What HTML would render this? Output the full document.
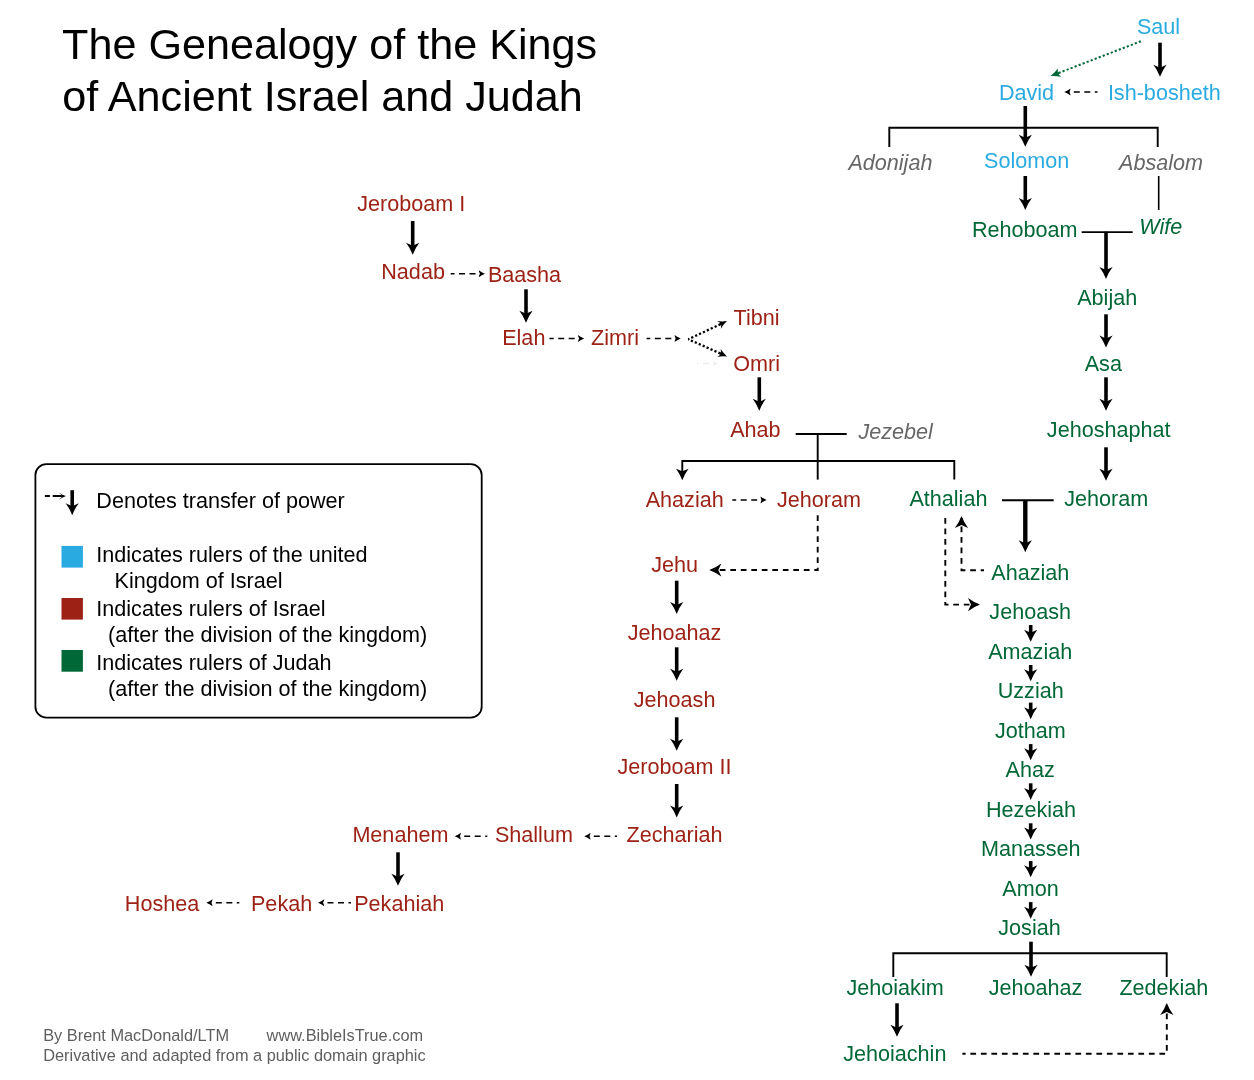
<!DOCTYPE html>
<html><head><meta charset="utf-8"><title>The Genealogy of the Kings of Ancient Israel and Judah</title>
<style>html,body{margin:0;padding:0;background:#fff}svg{display:block}text{font-family:"Liberation Sans",Arial,sans-serif}</style></head><body>
<svg width="1254" height="1080" viewBox="0 0 1254 1080">
<rect width="1254" height="1080" fill="#fff"/>
<g font-size="43.17" fill="#000"><text x="62.1" y="58.7">The Genealogy of the Kings</text><text x="62.2" y="110.6">of Ancient Israel and Judah</text></g>
<g font-size="21.6" text-anchor="middle">
<text x="1158.5" y="34.0" fill="#29abe2">Saul</text>
<text x="1026.5" y="100.0" fill="#29abe2">David</text>
<text x="1164.3" y="100.0" fill="#29abe2">Ish-bosheth</text>
<text x="1026.7" y="168.3" fill="#29abe2">Solomon</text>
<text x="890.4" y="170.0" fill="#666666" font-style="italic">Adonijah</text>
<text x="1161.0" y="170.0" fill="#666666" font-style="italic">Absalom</text>
<text x="895.7" y="438.8" fill="#666666" font-style="italic">Jezebel</text>
<text x="1024.7" y="237.2" fill="#006837">Rehoboam</text>
<text x="1160.8" y="234.3" fill="#006837" font-style="italic">Wife</text>
<text x="1107.2" y="304.8" fill="#006837">Abijah</text>
<text x="1103.3" y="370.5" fill="#006837">Asa</text>
<text x="1108.7" y="436.5" fill="#006837">Jehoshaphat</text>
<text x="1106.3" y="506.2" fill="#006837">Jehoram</text>
<text x="948.4" y="506.2" fill="#006837">Athaliah</text>
<text x="1030.3" y="580.3" fill="#006837">Ahaziah</text>
<text x="1030.2" y="619.2" fill="#006837">Jehoash</text>
<text x="1030.2" y="658.5" fill="#006837">Amaziah</text>
<text x="1030.7" y="698.0" fill="#006837">Uzziah</text>
<text x="1030.3" y="737.7" fill="#006837">Jotham</text>
<text x="1030.2" y="777.0" fill="#006837">Ahaz</text>
<text x="1031.0" y="816.5" fill="#006837">Hezekiah</text>
<text x="1030.8" y="856.0" fill="#006837">Manasseh</text>
<text x="1030.5" y="895.5" fill="#006837">Amon</text>
<text x="1029.5" y="934.8" fill="#006837">Josiah</text>
<text x="895.1" y="994.5" fill="#006837">Jehoiakim</text>
<text x="1035.5" y="994.5" fill="#006837">Jehoahaz</text>
<text x="1163.8" y="994.5" fill="#006837">Zedekiah</text>
<text x="894.8" y="1060.5" fill="#006837">Jehoiachin</text>
<text x="411.3" y="211.4" fill="#9e2116">Jeroboam I</text>
<text x="413.1" y="278.7" fill="#9e2116">Nadab</text>
<text x="524.5" y="282.0" fill="#9e2116">Baasha</text>
<text x="523.8" y="345.2" fill="#9e2116">Elah</text>
<text x="615.0" y="345.2" fill="#9e2116">Zimri</text>
<text x="756.6" y="324.8" fill="#9e2116">Tibni</text>
<text x="756.6" y="370.5" fill="#9e2116">Omri</text>
<text x="755.4" y="437.2" fill="#9e2116">Ahab</text>
<text x="684.7" y="507.2" fill="#9e2116">Ahaziah</text>
<text x="818.9" y="507.2" fill="#9e2116">Jehoram</text>
<text x="674.7" y="572.3" fill="#9e2116">Jehu</text>
<text x="674.5" y="640.0" fill="#9e2116">Jehoahaz</text>
<text x="674.6" y="707.3" fill="#9e2116">Jehoash</text>
<text x="674.5" y="774.3" fill="#9e2116">Jeroboam II</text>
<text x="674.5" y="842.2" fill="#9e2116">Zechariah</text>
<text x="533.9" y="842.2" fill="#9e2116">Shallum</text>
<text x="400.4" y="842.2" fill="#9e2116">Menahem</text>
<text x="399.2" y="911.2" fill="#9e2116">Pekahiah</text>
<text x="281.6" y="911.2" fill="#9e2116">Pekah</text>
<text x="162.0" y="911.2" fill="#9e2116">Hoshea</text>
</g>
<g fill="none" stroke="#000" stroke-width="1.9">
<path d="M889.3,147 V127.7 H1157.7 V147"/>
<path d="M1158.7,176 V210" stroke-width="1.6"/>
<path d="M1081.7,232.1 H1132.7"/>
<path d="M795.7,434 H846.7"/>
<path d="M817.7,434 V479.6"/>
<path d="M682.3,472 V461 H954.3 V479.6"/>
<path d="M1002,500.3 H1053.7"/>
<path d="M893.3,977 V953.3 H1166.7 V977"/>
</g>
<path transform="translate(682.3,480.3) rotate(90.0)" d="M0,0 Q-6.33,-2.38 -11.5,-6.25 Q-10,-2.08 -9,0 Q-10,2.08 -11.5,6.25 Q-6.33,2.38 0,0 Z" fill="#000"/>
<g stroke="#000" stroke-width="3.6" fill="none">
<path d="M1160,42.7 V69"/>
<path d="M1025.3,106 V139"/>
<path d="M1025.3,176 V202.3"/>
<path d="M1106,231.7 V271.3"/>
<path d="M1106,314.3 V339.7"/>
<path d="M1106,377.3 V403"/>
<path d="M1106,447.3 V473"/>
<path d="M1025.3,500.3 V544.5" stroke-width="4.4"/>
<path d="M1031,941.7 V969"/>
<path d="M897,1003.3 V1029"/>
<path d="M412.7,221 V247"/>
<path d="M526,289.3 V315"/>
<path d="M759.3,377.3 V403"/>
<path d="M676.7,580.7 V606.3"/>
<path d="M676.7,647.3 V673"/>
<path d="M676.7,717.3 V743"/>
<path d="M676.7,784 V809.7"/>
<path d="M398,852.3 V878"/>
<path d="M72.2,490.2 V507.4"/>
<path d="M1030.7,625 V634.5"/>
<path d="M1030.7,665 V674"/>
<path d="M1030.7,702.6 V711.9"/>
<path d="M1030.7,744.1 V753"/>
<path d="M1030.7,783.3 V792.6"/>
<path d="M1030.7,823.3 V832.2"/>
<path d="M1030.7,861.1 V870"/>
<path d="M1030.7,902.1 V911.4"/>
</g>
<path transform="translate(1160.0,76.8) rotate(90.0)" d="M0,0 Q-6.60,-2.51 -12,-6.6 Q-10,-2.20 -9,0 Q-10,2.20 -12,6.6 Q-6.60,2.51 0,0 Z" fill="#000"/>
<path transform="translate(1025.3,146.8) rotate(90.0)" d="M0,0 Q-6.60,-2.51 -12,-6.6 Q-10,-2.20 -9,0 Q-10,2.20 -12,6.6 Q-6.60,2.51 0,0 Z" fill="#000"/>
<path transform="translate(1025.3,210.1) rotate(90.0)" d="M0,0 Q-6.60,-2.51 -12,-6.6 Q-10,-2.20 -9,0 Q-10,2.20 -12,6.6 Q-6.60,2.51 0,0 Z" fill="#000"/>
<path transform="translate(1106.0,279.1) rotate(90.0)" d="M0,0 Q-6.60,-2.51 -12,-6.6 Q-10,-2.20 -9,0 Q-10,2.20 -12,6.6 Q-6.60,2.51 0,0 Z" fill="#000"/>
<path transform="translate(1106.0,347.5) rotate(90.0)" d="M0,0 Q-6.60,-2.51 -12,-6.6 Q-10,-2.20 -9,0 Q-10,2.20 -12,6.6 Q-6.60,2.51 0,0 Z" fill="#000"/>
<path transform="translate(1106.0,410.8) rotate(90.0)" d="M0,0 Q-6.60,-2.51 -12,-6.6 Q-10,-2.20 -9,0 Q-10,2.20 -12,6.6 Q-6.60,2.51 0,0 Z" fill="#000"/>
<path transform="translate(1106.0,480.8) rotate(90.0)" d="M0,0 Q-6.60,-2.51 -12,-6.6 Q-10,-2.20 -9,0 Q-10,2.20 -12,6.6 Q-6.60,2.51 0,0 Z" fill="#000"/>
<path transform="translate(1025.3,552.3) rotate(90.0)" d="M0,0 Q-6.60,-2.51 -12,-6.6 Q-10,-2.20 -9,0 Q-10,2.20 -12,6.6 Q-6.60,2.51 0,0 Z" fill="#000"/>
<path transform="translate(1031.0,976.8) rotate(90.0)" d="M0,0 Q-6.60,-2.51 -12,-6.6 Q-10,-2.20 -9,0 Q-10,2.20 -12,6.6 Q-6.60,2.51 0,0 Z" fill="#000"/>
<path transform="translate(897.0,1036.8) rotate(90.0)" d="M0,0 Q-6.60,-2.51 -12,-6.6 Q-10,-2.20 -9,0 Q-10,2.20 -12,6.6 Q-6.60,2.51 0,0 Z" fill="#000"/>
<path transform="translate(412.7,254.8) rotate(90.0)" d="M0,0 Q-6.60,-2.51 -12,-6.6 Q-10,-2.20 -9,0 Q-10,2.20 -12,6.6 Q-6.60,2.51 0,0 Z" fill="#000"/>
<path transform="translate(526.0,322.8) rotate(90.0)" d="M0,0 Q-6.60,-2.51 -12,-6.6 Q-10,-2.20 -9,0 Q-10,2.20 -12,6.6 Q-6.60,2.51 0,0 Z" fill="#000"/>
<path transform="translate(759.3,410.8) rotate(90.0)" d="M0,0 Q-6.60,-2.51 -12,-6.6 Q-10,-2.20 -9,0 Q-10,2.20 -12,6.6 Q-6.60,2.51 0,0 Z" fill="#000"/>
<path transform="translate(676.7,614.1) rotate(90.0)" d="M0,0 Q-6.60,-2.51 -12,-6.6 Q-10,-2.20 -9,0 Q-10,2.20 -12,6.6 Q-6.60,2.51 0,0 Z" fill="#000"/>
<path transform="translate(676.7,680.8) rotate(90.0)" d="M0,0 Q-6.60,-2.51 -12,-6.6 Q-10,-2.20 -9,0 Q-10,2.20 -12,6.6 Q-6.60,2.51 0,0 Z" fill="#000"/>
<path transform="translate(676.7,750.8) rotate(90.0)" d="M0,0 Q-6.60,-2.51 -12,-6.6 Q-10,-2.20 -9,0 Q-10,2.20 -12,6.6 Q-6.60,2.51 0,0 Z" fill="#000"/>
<path transform="translate(676.7,817.5) rotate(90.0)" d="M0,0 Q-6.60,-2.51 -12,-6.6 Q-10,-2.20 -9,0 Q-10,2.20 -12,6.6 Q-6.60,2.51 0,0 Z" fill="#000"/>
<path transform="translate(398.0,885.8) rotate(90.0)" d="M0,0 Q-6.60,-2.51 -12,-6.6 Q-10,-2.20 -9,0 Q-10,2.20 -12,6.6 Q-6.60,2.51 0,0 Z" fill="#000"/>
<path transform="translate(72.2,515.2) rotate(90.0)" d="M0,0 Q-6.60,-2.51 -12,-6.6 Q-10,-2.20 -9,0 Q-10,2.20 -12,6.6 Q-6.60,2.51 0,0 Z" fill="#000"/>
<path transform="translate(1030.7,641.8) rotate(90.0)" d="M0,0 Q-6.60,-2.51 -12,-6.6 Q-10,-2.20 -9,0 Q-10,2.20 -12,6.6 Q-6.60,2.51 0,0 Z" fill="#000"/>
<path transform="translate(1030.7,681.3) rotate(90.0)" d="M0,0 Q-6.60,-2.51 -12,-6.6 Q-10,-2.20 -9,0 Q-10,2.20 -12,6.6 Q-6.60,2.51 0,0 Z" fill="#000"/>
<path transform="translate(1030.7,719.2) rotate(90.0)" d="M0,0 Q-6.60,-2.51 -12,-6.6 Q-10,-2.20 -9,0 Q-10,2.20 -12,6.6 Q-6.60,2.51 0,0 Z" fill="#000"/>
<path transform="translate(1030.7,760.3) rotate(90.0)" d="M0,0 Q-6.60,-2.51 -12,-6.6 Q-10,-2.20 -9,0 Q-10,2.20 -12,6.6 Q-6.60,2.51 0,0 Z" fill="#000"/>
<path transform="translate(1030.7,799.9) rotate(90.0)" d="M0,0 Q-6.60,-2.51 -12,-6.6 Q-10,-2.20 -9,0 Q-10,2.20 -12,6.6 Q-6.60,2.51 0,0 Z" fill="#000"/>
<path transform="translate(1030.7,839.5) rotate(90.0)" d="M0,0 Q-6.60,-2.51 -12,-6.6 Q-10,-2.20 -9,0 Q-10,2.20 -12,6.6 Q-6.60,2.51 0,0 Z" fill="#000"/>
<path transform="translate(1030.7,877.3) rotate(90.0)" d="M0,0 Q-6.60,-2.51 -12,-6.6 Q-10,-2.20 -9,0 Q-10,2.20 -12,6.6 Q-6.60,2.51 0,0 Z" fill="#000"/>
<path transform="translate(1030.7,918.7) rotate(90.0)" d="M0,0 Q-6.60,-2.51 -12,-6.6 Q-10,-2.20 -9,0 Q-10,2.20 -12,6.6 Q-6.60,2.51 0,0 Z" fill="#000"/>
<g stroke="#000" stroke-width="1.5" fill="none" stroke-dasharray="6 4.5">
<path d="M1066.3,92 H1097.5" stroke-dashoffset="3"/>
<path d="M483,273.7 H450.7" stroke-dashoffset="3"/>
<path d="M582.2,338.5 H549.5" stroke-dashoffset="3"/>
<path d="M678.8,338.5 H646.6" stroke-dashoffset="3"/>
<path d="M764.7,500 H732.3" stroke-dashoffset="3"/>
<path d="M586.3,836.3 H617" stroke-dashoffset="3"/>
<path d="M456.7,836.3 H487.3" stroke-dashoffset="3"/>
<path d="M320,902.7 H351" stroke-dashoffset="3"/>
<path d="M208.3,902.7 H239.3" stroke-dashoffset="3"/>
</g>
<path transform="translate(1064.3,92.0) rotate(180.0)" d="M0,0 Q-3.41,-1.33 -6.2,-3.5 Q-6,-1.17 -5,0 Q-6,1.17 -6.2,3.5 Q-3.41,1.33 0,0 Z" fill="#000"/>
<path transform="translate(485.0,273.7) rotate(0.0)" d="M0,0 Q-3.41,-1.33 -6.2,-3.5 Q-6,-1.17 -5,0 Q-6,1.17 -6.2,3.5 Q-3.41,1.33 0,0 Z" fill="#000"/>
<path transform="translate(584.2,338.5) rotate(0.0)" d="M0,0 Q-3.41,-1.33 -6.2,-3.5 Q-6,-1.17 -5,0 Q-6,1.17 -6.2,3.5 Q-3.41,1.33 0,0 Z" fill="#000"/>
<path transform="translate(680.8,338.5) rotate(0.0)" d="M0,0 Q-3.41,-1.33 -6.2,-3.5 Q-6,-1.17 -5,0 Q-6,1.17 -6.2,3.5 Q-3.41,1.33 0,0 Z" fill="#000"/>
<path transform="translate(766.7,500.0) rotate(0.0)" d="M0,0 Q-3.41,-1.33 -6.2,-3.5 Q-6,-1.17 -5,0 Q-6,1.17 -6.2,3.5 Q-3.41,1.33 0,0 Z" fill="#000"/>
<path transform="translate(584.3,836.3) rotate(180.0)" d="M0,0 Q-3.41,-1.33 -6.2,-3.5 Q-6,-1.17 -5,0 Q-6,1.17 -6.2,3.5 Q-3.41,1.33 0,0 Z" fill="#000"/>
<path transform="translate(454.7,836.3) rotate(180.0)" d="M0,0 Q-3.41,-1.33 -6.2,-3.5 Q-6,-1.17 -5,0 Q-6,1.17 -6.2,3.5 Q-3.41,1.33 0,0 Z" fill="#000"/>
<path transform="translate(318.0,902.7) rotate(180.0)" d="M0,0 Q-3.41,-1.33 -6.2,-3.5 Q-6,-1.17 -5,0 Q-6,1.17 -6.2,3.5 Q-3.41,1.33 0,0 Z" fill="#000"/>
<path transform="translate(206.3,902.7) rotate(180.0)" d="M0,0 Q-3.41,-1.33 -6.2,-3.5 Q-6,-1.17 -5,0 Q-6,1.17 -6.2,3.5 Q-3.41,1.33 0,0 Z" fill="#000"/>
<g stroke="#000" stroke-width="1.9" fill="none" stroke-dasharray="5.7 4.8" stroke-dashoffset="2">
<path d="M711.3,570 H817.7 V515"/>
<path d="M978,604.6 H945.3 V515.6"/>
<path d="M961.5,518 V570.3 H984"/>
<path d="M1166.8,1005 V1053.8 H962.4"/>
</g>
<path transform="translate(709.3,570.0) rotate(180.0)" d="M0,0 Q-6.60,-2.51 -12,-6.6 Q-10,-2.20 -9,0 Q-10,2.20 -12,6.6 Q-6.60,2.51 0,0 Z" fill="#000"/>
<path transform="translate(980.0,604.6) rotate(0.0)" d="M0,0 Q-6.60,-2.51 -12,-6.6 Q-10,-2.20 -9,0 Q-10,2.20 -12,6.6 Q-6.60,2.51 0,0 Z" fill="#000"/>
<path transform="translate(961.5,516.0) rotate(270.0)" d="M0,0 Q-6.60,-2.51 -12,-6.6 Q-10,-2.20 -9,0 Q-10,2.20 -12,6.6 Q-6.60,2.51 0,0 Z" fill="#000"/>
<path transform="translate(1166.8,1003.0) rotate(270.0)" d="M0,0 Q-6.60,-2.51 -12,-6.6 Q-10,-2.20 -9,0 Q-10,2.20 -12,6.6 Q-6.60,2.51 0,0 Z" fill="#000"/>
<path d="M1057.1,73.5 L1060.6,72.2" stroke="#006837" stroke-width="2" fill="none"/>
<path d="M1060.6,72.2 L1141,41.2" stroke="#006837" stroke-width="2" stroke-dasharray="2.2 2.1" stroke-dashoffset="2.2" fill="none"/>
<path transform="translate(1050.6,76.0) rotate(158.9)" d="M0,0 Q-5.23,-1.71 -9.5,-4.5 Q-8.5,-1.50 -7.5,0 Q-8.5,1.50 -9.5,4.5 Q-5.23,1.71 0,0 Z" fill="#006837"/>
<path d="M721.8,323.5 L718.5,325.1" stroke="#000" stroke-width="2.3" fill="none"/>
<path d="M718.5,325.1 L688.3,339.3" stroke="#000" stroke-width="2.3" stroke-dasharray="2.2 2.1" stroke-dashoffset="2.2" fill="none"/>
<path transform="translate(727.0,321.1) rotate(-25.2)" d="M0,0 Q-4.84,-1.60 -8.8,-4.2 Q-7.2,-1.40 -6.2,0 Q-7.2,1.40 -8.8,4.2 Q-4.84,1.60 0,0 Z" fill="#000"/>
<path d="M721.8,354.1 L718.4,352.6" stroke="#000" stroke-width="2.3" fill="none"/>
<path d="M718.4,352.6 L688.3,339.3" stroke="#000" stroke-width="2.3" stroke-dasharray="2.2 2.1" stroke-dashoffset="2.2" fill="none"/>
<path transform="translate(727.0,356.4) rotate(23.8)" d="M0,0 Q-4.84,-1.60 -8.8,-4.2 Q-7.2,-1.40 -6.2,0 Q-7.2,1.40 -8.8,4.2 Q-4.84,1.60 0,0 Z" fill="#000"/>
<path d="M697,363.6 h1.2 M703,363.6 h6" stroke="#ebebeb" stroke-width="1.5" fill="none"/><path d="M718,363.6 l-5.5,-2.6 l1.2,2.6 l-1.2,2.6 z" fill="#efefef"/>
<path d="M44.9,496.1 H49.9 M52.7,496.1 H63.5" stroke="#000" stroke-width="2" fill="none"/>
<path transform="translate(66.0,496.1) rotate(0.0)" d="M0,0 Q-4.02,-1.41 -7.3,-3.7 Q-4.2,-1.23 -3.2,0 Q-4.2,1.23 -7.3,3.7 Q-4.02,1.41 0,0 Z" fill="#000"/>
<rect x="35.4" y="464.1" width="446.3" height="253.6" rx="11" ry="11" fill="none" stroke="#000" stroke-width="1.8"/>
<rect x="61.5" y="545.9" width="21.4" height="21.7" fill="#29abe2"/>
<rect x="61.5" y="598" width="21.4" height="21.6" fill="#9e2116"/>
<rect x="61.5" y="650" width="21.4" height="21.7" fill="#006837"/>
<g font-size="21.6" fill="#000">
<text x="96.3" y="508.2">Denotes transfer of power</text>
<text x="96.3" y="562.2">Indicates rulers of the united</text>
<text x="114.5" y="588.2">Kingdom of Israel</text>
<text x="96.3" y="616">Indicates rulers of Israel</text>
<text x="108" y="641.6">(after the division of the kingdom)</text>
<text x="96.3" y="670">Indicates rulers of Judah</text>
<text x="108" y="695.6">(after the division of the kingdom)</text>
</g>
<g font-size="16.35" fill="#5e5e5e">
<text x="43.2" y="1041.4">By Brent MacDonald/LTM</text><text x="266.6" y="1041.4">www.BibleIsTrue.com</text>
<text x="43.2" y="1061.1">Derivative and adapted from a public domain graphic</text>
</g>
</svg></body></html>
